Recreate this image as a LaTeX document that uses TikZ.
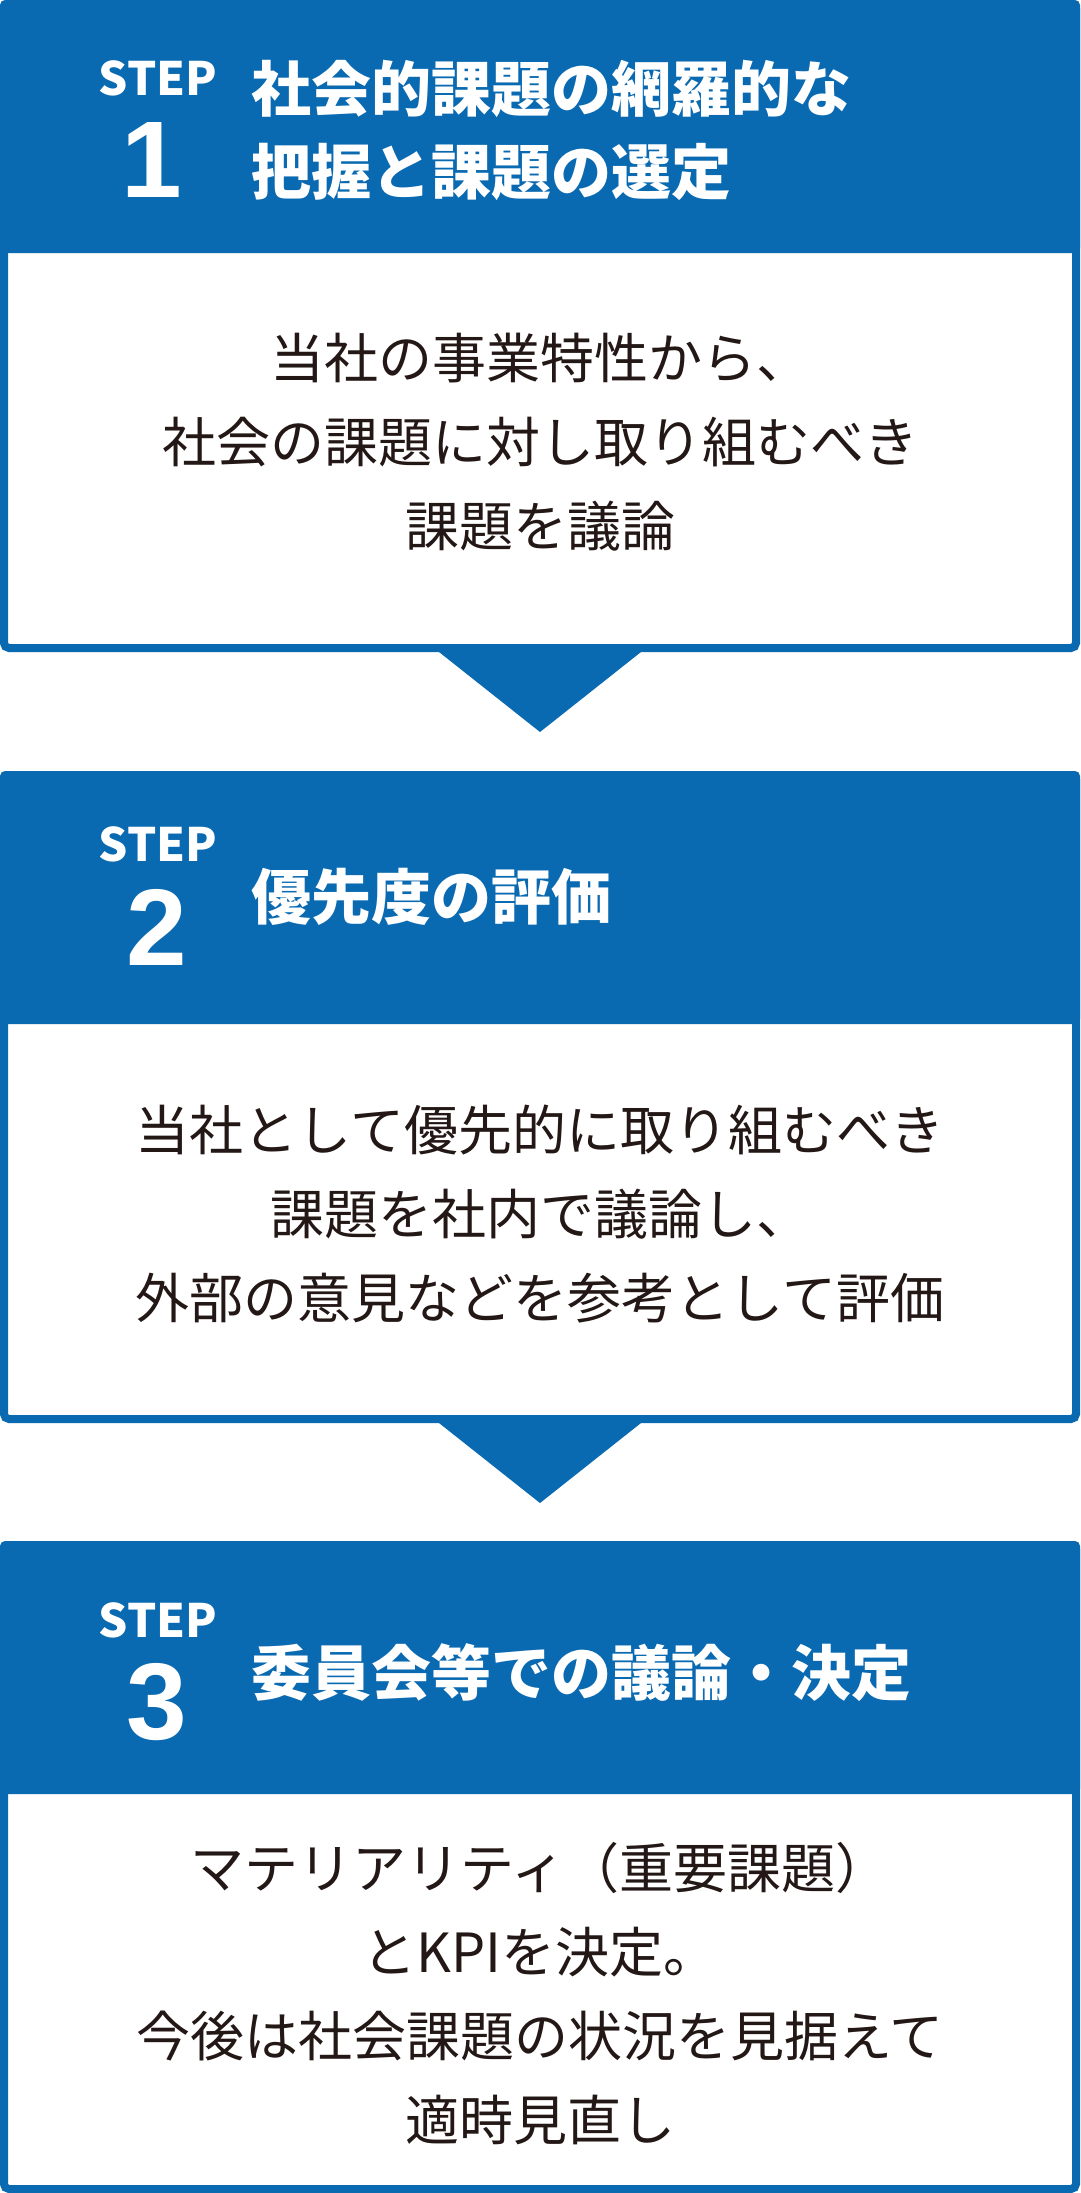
\documentclass[tikz,border=0pt]{standalone}
\usepackage{fontspec}
\newfontfamily\cjk{Noto Sans CJK JP}
\newfontfamily\digits{Liberation Sans}
\definecolor{stepblue}{HTML}{0969B1}
\definecolor{textcol}{HTML}{231815}
\begin{document}
\begin{tikzpicture}[x=1pt,y=-1pt,
  panel/.style={draw=stepblue,line width=8pt,fill=white,rounded corners=5pt,
    minimum width=1072pt,minimum height=644pt,inner sep=0pt,outer sep=4pt},
  head/.style={fill=stepblue,rounded corners=5pt,minimum width=1080pt,
    minimum height=253pt,inner sep=0pt,outer sep=0pt},
  steplabel/.style={text=white,font=\cjk\bfseries\fontsize{46}{46}\selectfont,inner sep=0pt},
  stepnum/.style={text=white,font=\digits\bfseries\fontsize{109}{109}\selectfont,inner sep=0pt},
  title/.style={text=white,font=\cjk\bfseries\fontsize{60}{83}\selectfont,
    align=left,anchor=west,inner sep=0pt},
  body/.style={text=textcol,font=\cjk\fontsize{54}{84}\selectfont,align=center,inner sep=0pt},
  arrowtri/.style={fill=stepblue}
]
\useasboundingbox (0,0) rectangle (1080,2193);

% STEP 1
\node[panel] (box1) at (540,326) {};
\node[head] (head1) at (540,126.5) {};
\node[steplabel] (s1) at (158,78) {STEP};
\node[stepnum] (n1) at (152,160) {1};
\node[title] (t1) at (251,130) {社会的課題の網羅的な\\把握と課題の選定};
\node[body] (b1) at (540,442) {当社の事業特性から、\\社会の課題に対し取り組むべき\\課題を議論};

% STEP 2
\node[panel] (box2) at (540,1097) {};
\node[head] (head2) at (540,897.5) {};
\node[steplabel] (s2) at (158,844.5) {STEP};
\node[stepnum] (n2) at (157,927) {2};
\node[title] (t2) at (251,897) {優先度の評価};
\node[body] (b2) at (540,1214) {当社として優先的に取り組むべき\\課題を社内で議論し、\\外部の意見などを参考として評価};

% STEP 3
\node[panel] (box3) at (540,1867) {};
\node[head] (head3) at (540,1667.5) {};
\node[steplabel] (s3) at (158,1620) {STEP};
\node[stepnum] (n3) at (157,1702) {3};
\node[title] (t3) at (251,1673) {委員会等での議論・決定};
\node[body] (b3) at (540,1994) {マテリアリティ（重要課題）\\とKPIを決定。\\今後は社会課題の状況を見据えて\\適時見直し};

% arrows between steps
\fill[arrowtri] ([xshift=-101pt]box1.south) -- ([xshift=101pt]box1.south) -- ([yshift=-80pt]box1.south) -- cycle;
\fill[arrowtri] ([xshift=-101pt]box2.south) -- ([xshift=101pt]box2.south) -- ([yshift=-80pt]box2.south) -- cycle;
\end{tikzpicture}
\end{document}
